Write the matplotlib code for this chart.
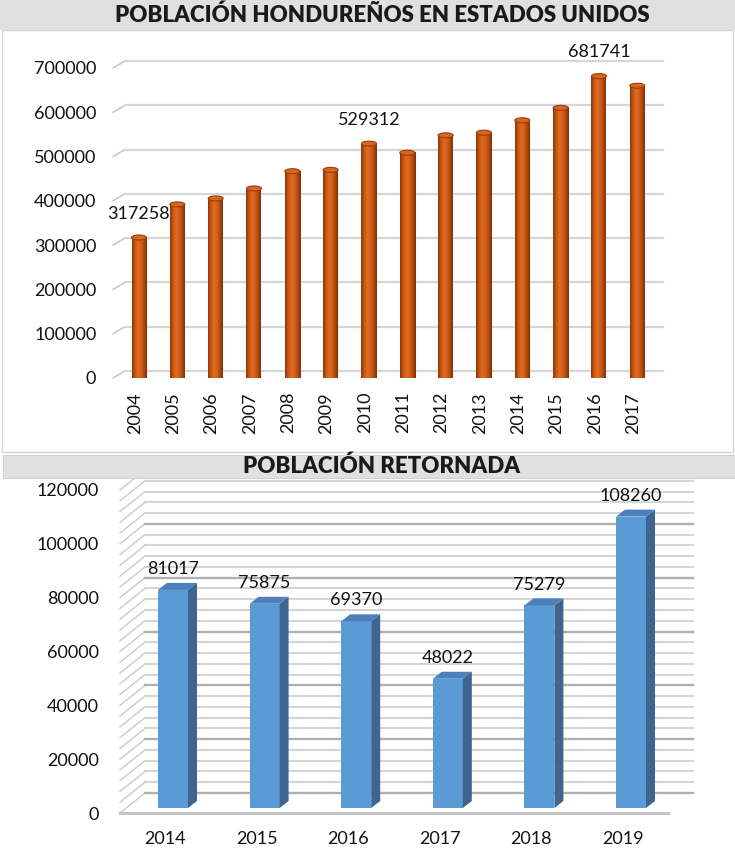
import matplotlib
matplotlib.use('Agg')
import matplotlib.pyplot as plt
from matplotlib.patches import Rectangle, Ellipse, Polygon
from matplotlib.colors import LinearSegmentedColormap
import numpy as np

# ---------------- data ----------------
title_us = 'POBLACIÓN HONDUREÑOS EN ESTADOS UNIDOS'
years_us = ['2004', '2005', '2006', '2007', '2008', '2009', '2010',
            '2011', '2012', '2013', '2014', '2015', '2016', '2017']
pop_us = [317258, 392000, 405500, 428000, 467000, 470000, 529312,
          508700, 548000, 554000, 582000, 610000, 681741, 660000]
labeled_us = ['2004', '2010', '2016']
ticks_us = [0, 100000, 200000, 300000, 400000, 500000, 600000, 700000]

title_ret = 'POBLACIÓN RETORNADA'
years_ret = ['2014', '2015', '2016', '2017', '2018', '2019']
pop_ret = [81017, 75875, 69370, 48022, 75279, 108260]
ticks_ret = [0, 20000, 40000, 60000, 80000, 100000, 120000]
minor_step_ret = 4000

# ---------------- figure ----------------
W, H = 735, 851
plt.rcParams['font.family'] = ['Lato', 'DejaVu Sans']
fig = plt.figure(figsize=(W / 100, H / 100), dpi=100)
FS = 13


def fx(px):
    return px / W


def fy(py):
    return 1 - py / H


# background panels
fig.patches.append(Rectangle((fx(2), fy(452)), fx(733) - fx(2), fy(30) - fy(452),
                             transform=fig.transFigure, facecolor='white',
                             edgecolor='#D4D4D4', lw=1, zorder=-1))
fig.patches.append(Rectangle((0, fy(30)), 1, fy(0) - fy(30), transform=fig.transFigure,
                             facecolor='#E0E0E0', edgecolor='none', zorder=1))
fig.patches.append(Rectangle((fx(3), fy(478)), 1 - fx(3), fy(455) - fy(478),
                             transform=fig.transFigure, facecolor='#E0E0E0',
                             edgecolor='#D0D0D0', lw=0.8, zorder=1))
fig.text(fx(382), fy(15), title_us, ha='center', va='center', fontsize=16,
         fontweight='heavy', color='#1a1a1a', zorder=2)
fig.text(fx(382), fy(466), title_ret, ha='center', va='center', fontsize=16,
         fontweight='heavy', color='#1a1a1a', zorder=2)

# ---------------- top chart ----------------
L1, R1, B1, T1 = 113, 651, 378, 68
ax1 = fig.add_axes([fx(L1), fy(B1), (R1 - L1) / W, (B1 - T1) / H])
ax1.set_facecolor('none')
x1 = np.arange(len(years_us))
ux1 = 38.33
xmin1 = -(139 - L1) / ux1
xmax1 = xmin1 + (R1 - L1) / ux1
ax1.set_xlim(xmin1, xmax1)
ax1.set_ylim(0, ticks_us[-1])
uy1 = (B1 - T1) / ticks_us[-1]  # px per unit
gdx, gdy = 12 / ux1, 7 / uy1
for v in ticks_us:
    ax1.plot([xmin1, xmin1 + gdx], [v, v + gdy], color='#C8C8C8', lw=1.2,
             clip_on=False, zorder=1, solid_capstyle='round')
    ax1.plot([xmin1 + gdx, xmax1 + gdx], [v + gdy, v + gdy], color='#D6D6D6', lw=1.6,
             clip_on=False, zorder=1)

cyl = LinearSegmentedColormap.from_list('cyl', ['#8A360A', '#C8560F', '#E06C22',
                                                '#D5611A', '#B24B0D', '#7E3009'])
grad = np.linspace(0, 1, 64)[None, :]
w1 = 15 / ux1
eh = 5 / uy1
for xi, v in zip(x1, pop_us):
    ax1.add_patch(Ellipse((xi, 0), w1, eh, facecolor='#A9470C', edgecolor='none', zorder=2))
    ax1.imshow(grad, extent=(xi - w1 / 2, xi + w1 / 2, 0, v), aspect='auto', cmap=cyl,
               zorder=3, interpolation='bilinear')
    ax1.add_patch(Ellipse((xi, v), w1, eh, facecolor='#D8661F', edgecolor='#9A3E0C',
                          lw=0.8, zorder=4))
ax1.set_xlim(xmin1, xmax1)
ax1.set_ylim(0, ticks_us[-1])

for xi, yr, v in zip(x1, years_us, pop_us):
    if yr in labeled_us:
        ax1.annotate(str(v), (xi, v), xytext=(0, 17), textcoords='offset points',
                     ha='center', va='center', fontsize=FS, color='#111111', zorder=5)

ax1.set_yticks(ticks_us)
ax1.set_yticklabels([str(t) for t in ticks_us], fontsize=FS, color='#111111')
ax1.set_xticks(x1 - 4 / ux1)
ax1.set_xticklabels(years_us, rotation=90, fontsize=FS, color='#111111')
ax1.tick_params(axis='y', length=0, pad=12)
ax1.tick_params(axis='x', length=0, pad=10)
for s in ax1.spines.values():
    s.set_visible(False)

# ---------------- bottom chart ----------------
L2, R2, B2, T2 = 120, 668, 813, 490
ax2 = fig.add_axes([fx(L2), fy(B2), (R2 - L2) / W, (B2 - T2) / H])
ax2.set_facecolor('none')
x2 = np.arange(len(years_ret))
ux2 = 91.6
xmin2 = -(173 - L2) / ux2
xmax2 = xmin2 + (R2 - L2) / ux2
ax2.set_xlim(xmin2, xmax2)
ax2.set_ylim(0, ticks_ret[-1])
uy2 = (B2 - T2) / ticks_ret[-1]
bdx, bdy = 25 / ux2, 20 / uy2
for v in range(0, ticks_ret[-1] + 1, minor_step_ret):
    major = v in ticks_ret
    ax2.plot([xmin2, xmin2 + bdx], [v, v + bdy], color='#CACACA', lw=1.0,
             clip_on=False, zorder=1)
    ax2.plot([xmin2 + bdx, xmax2 + bdx], [v + bdy, v + bdy],
             color='#B0B0B0' if major else '#D5D5D5', lw=1.7 if major else 1.5,
             clip_on=False, zorder=1)
ax2.plot([xmin2, xmax2], [0, 0], color='#C4C4C4', lw=2.2, clip_on=False, zorder=1)

w2 = 30 / ux2
base = 5 / uy2
sdx, sdy = 9 / ux2, 7 / uy2
ax2.bar(x2, pop_ret, width=w2, bottom=base, color='#5B9BD5', edgecolor='none', zorder=3)
for xi, v in zip(x2, pop_ret):
    r = xi + w2 / 2
    l = xi - w2 / 2
    top = base + v
    ax2.add_patch(Polygon([(r, base), (r, top), (r + sdx, top + sdy), (r + sdx, base + sdy)],
                          closed=True, facecolor='#3E6490', edgecolor='none', zorder=3))
    ax2.add_patch(Polygon([(l, top), (r, top), (r + sdx, top + sdy), (l + sdx, top + sdy)],
                          closed=True, facecolor='#4C80BC', edgecolor='none', zorder=3))
    ax2.annotate(str(v), (xi, top), xytext=(0, 15), textcoords='offset points',
                 ha='center', va='center', fontsize=FS, color='#111111', zorder=5)

ax2.set_yticks(ticks_ret)
ax2.set_yticklabels([str(t) for t in ticks_ret], fontsize=FS, color='#111111')
ax2.set_xticks(x2 - 8 / ux2)
ax2.set_xticklabels(years_ret, fontsize=FS, color='#111111')
ax2.tick_params(axis='y', length=0, pad=15)
ax2.tick_params(axis='x', length=0, pad=13)
for s in ax2.spines.values():
    s.set_visible(False)

fig.savefig('out.png', dpi=100)
